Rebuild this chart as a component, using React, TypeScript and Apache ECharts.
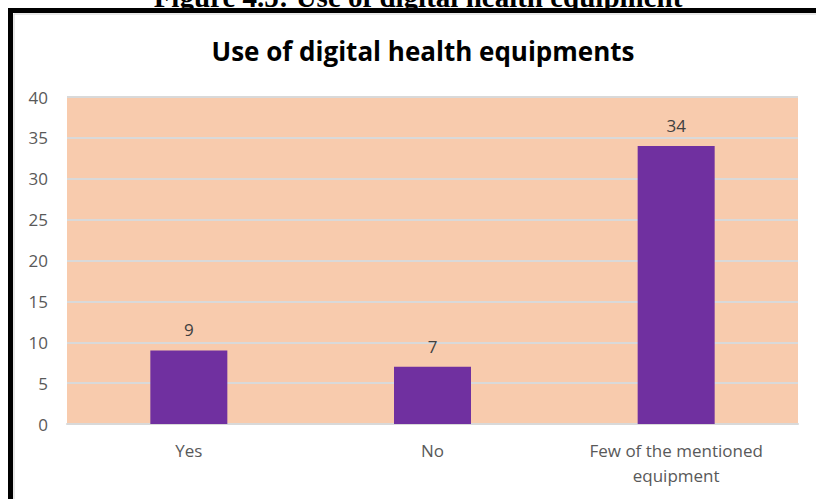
import React, { useEffect, useRef } from "react";
import * as echarts from "echarts";

const categories = ["Yes", "No", "Few of the mentioned\nequipment"];
const values = [9, 7, 34];
const chartTitle = "Use of digital health equipments";
const caption = "Figure 4.5: Use of digital health equipment";

export default function App() {
  const ref = useRef<HTMLDivElement>(null);
  useEffect(() => {
    document.body.style.margin = "0";
    const chart = echarts.init(ref.current!, null, { renderer: "svg" });
    chart.setOption({
      animation: false,
      backgroundColor: "#ffffff",
      title: {
        text: chartTitle,
        left: 418,
        textAlign: "center",
        top: 33,
        textStyle: { fontFamily: "Open Sans", fontWeight: "bold", fontSize: 26, color: "#000000" },
      },
      graphic: [
        {
          type: "text",
          x: 418,
          y: -3,
          style: { text: caption, font: "bold 29px 'Liberation Serif'", fill: "#000", textAlign: "center", textVerticalAlign: "middle" },
        },
        {
          type: "polyline",
          shape: { points: [[14, 499], [14, 14], [816, 14]] },
          style: { stroke: "#d0d0d0", lineWidth: 1, fill: "none" },
        },
        {
          type: "polyline",
          shape: { points: [[10.5, 499], [10.5, 10.5], [816, 10.5]] },
          style: { stroke: "#000", lineWidth: 5, fill: "none" },
        },
      ],
      grid: {
        left: 67,
        right: 18,
        top: 97,
        bottom: 75,
        show: true,
        backgroundColor: "#f8cbad",
        borderWidth: 0,
      },
      xAxis: {
        type: "category",
        data: categories,
        axisLine: { lineStyle: { color: "#d9d9d9", width: 2 } },
        axisTick: { show: false },
        axisLabel: { fontFamily: "Open Sans", fontSize: 17, color: "#595959", margin: 14, lineHeight: 25 },
      },
      yAxis: {
        type: "value",
        min: 0,
        max: 40,
        interval: 5,
        axisLine: { show: false },
        axisTick: { show: false },
        splitLine: { lineStyle: { color: "#d9d9d9", width: 2 } },
        axisLabel: { fontFamily: "Open Sans", fontSize: 17, color: "#595959", margin: 19 },
      },
      series: [
        {
          type: "bar",
          data: values,
          barWidth: "31.6%",
          itemStyle: { color: "#7030a0" },
          label: {
            show: true,
            position: "top",
            distance: 12,
            fontFamily: "Open Sans",
            fontSize: 17,
            color: "#404040",
          },
        },
      ],
    });
    return () => chart.dispose();
  }, []);
  return <div ref={ref} style={{ width: 816, height: 499 }} />;
}
